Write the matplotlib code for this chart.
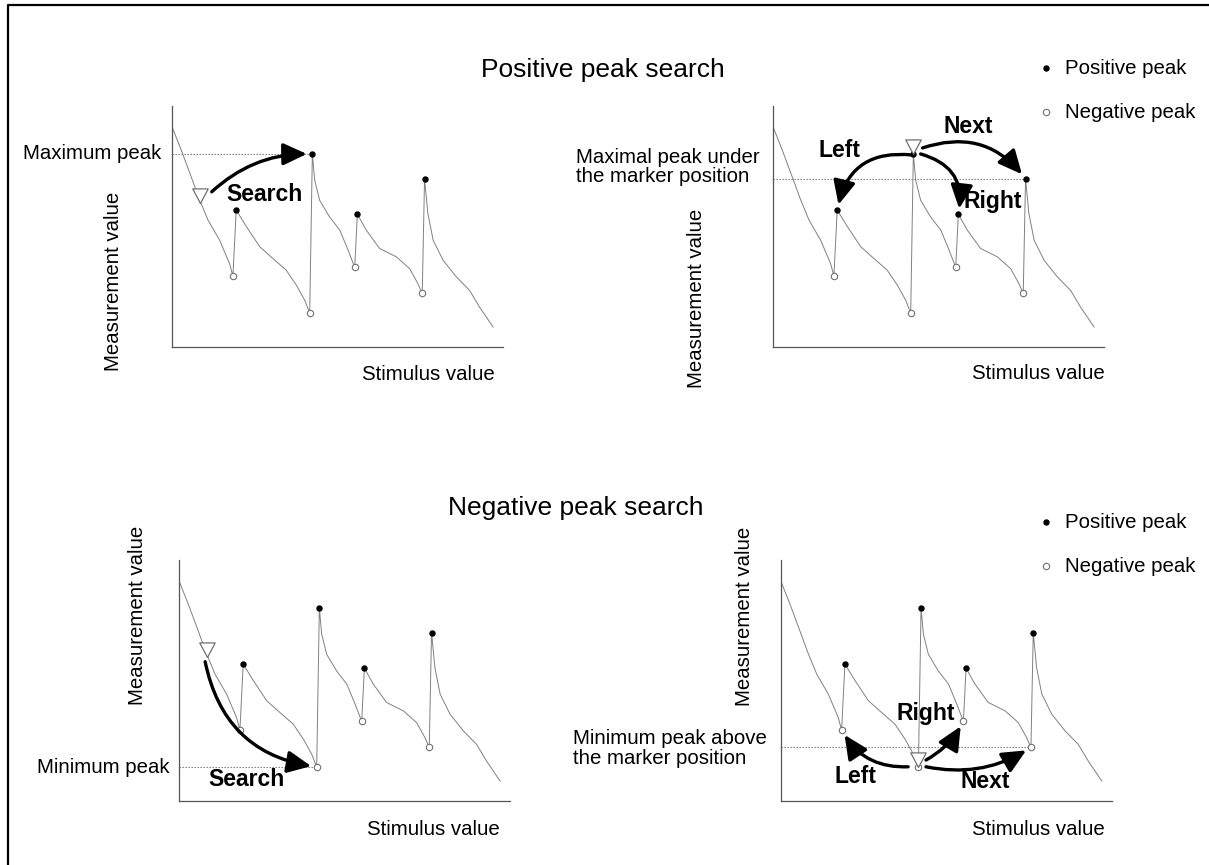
import matplotlib
matplotlib.use('Agg')
import matplotlib.pyplot as plt
from matplotlib.patches import FancyArrowPatch
from matplotlib.path import Path

plt.rcParams['font.family'] = ['Liberation Sans', 'DejaVu Sans']

W, H = 1209, 865

# trace, same in all four panels (x: stimulus 0-100, y: measurement 0-100)
curve_x = [0, 2.8, 5.8, 8.4, 10.9, 14.4, 17.4, 18.4,
           19.4, 22.5, 26.5, 30.5, 34.5, 37.6, 40.1, 41.6,
           42.4, 43.1, 44.6, 47.6, 50.7, 53.2, 55.2,
           56.0, 58.7, 62.7, 67.8, 71.8, 74.3, 75.6,
           76.3, 77.3, 78.9, 81.9, 85.9, 89.9, 92.9, 97.0]
curve_y = [91.4, 81.7, 70.6, 60.9, 52.6, 44.3, 34.6, 29.4,
           56.8, 49.9, 41.6, 36.7, 31.9, 25.6, 19.4, 14.1,
           80.1, 69.3, 60.9, 54.0, 48.5, 40.2, 33.0,
           55.1, 48.5, 40.9, 37.4, 32.5, 26.3, 22.2,
           69.9, 55.4, 44.3, 36.0, 29.1, 23.5, 16.6, 8.3]

pos_x = [19.4, 42.4, 56.0, 76.3]
pos_y = [56.8, 80.1, 55.1, 69.9]
neg_x = [18.4, 41.6, 55.2, 75.6]
neg_y = [29.4, 14.1, 33.0, 22.2]

# marker position for the "Search" panels (on the first slope)
search_marker = (8.6, 59.8)

titles = ['Positive peak search', 'Negative peak search']
legend_labels = ['Positive peak', 'Negative peak']
x_label = 'Stimulus value'
y_label = 'Measurement value'

GRAY = '#707070'
FS = 14.7
BFS = 16.5

# downward triangle with its tip at the data point
tri = Path([(0, 0), (-0.53, 1), (0.53, 1), (0, 0)],
           [Path.MOVETO, Path.LINETO, Path.LINETO, Path.CLOSEPOLY])

fig = plt.figure(figsize=(W / 100, H / 100), dpi=100)

# background overlay in pixel coords
bg = fig.add_axes([0, 0, 1, 1])
bg.set_xlim(0, W)
bg.set_ylim(H, 0)
bg.axis('off')
bg.plot([8, 8, W + 5], [H + 5, 5, 5], color='black', lw=1.6)


def make_axes(x0, y_bottom):
    ax = fig.add_axes([x0 / W, (H - y_bottom) / H, 331 / W, 241 / H])
    ax.set_xlim(0, 100)
    ax.set_ylim(0, 100)
    for s in ['top', 'right']:
        ax.spines[s].set_visible(False)
    for s in ['left', 'bottom']:
        ax.spines[s].set_color('#555555')
        ax.spines[s].set_linewidth(0.9)
    ax.set_xticks([])
    ax.set_yticks([])
    ax.patch.set_alpha(0)
    ax.plot(curve_x, curve_y, color='#808080', lw=0.7, zorder=2)
    ax.plot(pos_x, pos_y, 'o', ms=3.6, color='black', zorder=4)
    ax.plot(neg_x, neg_y, 'o', ms=4.6, mfc='white', mec=GRAY, mew=0.8, zorder=4)
    return ax


def marker(ax, x, y):
    ax.plot([x], [y], marker=tri, ms=21, mfc='white', mec=GRAY, mew=0.9,
            ls='none', zorder=5, clip_on=False)


def arrow(ax, start, end, rad):
    a = FancyArrowPatch(start, end, connectionstyle=f'arc3,rad={rad}',
                        arrowstyle='-|>,head_length=0.9,head_width=0.42',
                        mutation_scale=16, lw=2.4, color='black',
                        shrinkA=0, shrinkB=4, zorder=6, clip_on=False)
    ax.add_patch(a)


def word(ax, x, y, s):
    ax.text(x, y, s, fontsize=BFS, fontweight='bold', ha='center', va='center', zorder=7)


def dotted(ax, px, py):
    ax.plot([0, px], [py, py], ls=(0, (1.2, 1.5)), color=GRAY, lw=0.8, zorder=1)


# ---- top left: positive peak search ----
ax1 = make_axes(172, 347)
dotted(ax1, pos_x[1], pos_y[1])
ax1.text(-3.1, pos_y[1], 'Maximum peak', fontsize=FS, ha='right', va='center')
marker(ax1, *search_marker)
arrow(ax1, (12.0, 64.4), (pos_x[1], pos_y[1]), -0.2)
word(ax1, 27.8, 63.1, 'Search')
ax1.text(-17.8, 27.4, y_label, fontsize=FS, rotation=90, ha='center', va='center')
ax1.text(97.6, -11.6, x_label, fontsize=FS, ha='right', va='center')

# ---- top right: left / right / next ----
ax2 = make_axes(773, 347)
dotted(ax2, pos_x[3], pos_y[3])
ax2.text(-59.5, 74.7, 'Maximal peak under\nthe marker position', fontsize=FS,
         ha='left', va='center', linespacing=1.05)
marker(ax2, pos_x[1], pos_y[1])
arrow(ax2, (41.9, 79.7), (pos_x[0], pos_y[0]), 0.45)
arrow(ax2, (44.6, 80.1), (pos_x[2], pos_y[2]), -0.45)
arrow(ax2, (45.2, 82.6), (pos_x[3], pos_y[3]), -0.35)
word(ax2, 20.2, 81.7, 'Left')
word(ax2, 66.5, 60.2, 'Right')
word(ax2, 58.9, 91.7, 'Next')
ax2.text(-23.1, 20.3, y_label, fontsize=FS, rotation=90, ha='center', va='center')
ax2.text(100.2, -10.8, x_label, fontsize=FS, ha='right', va='center')

# ---- bottom left: negative peak search ----
ax3 = make_axes(179, 801)
dotted(ax3, neg_x[1], neg_y[1])
ax3.text(-2.9, neg_y[1], 'Minimum peak', fontsize=FS, ha='right', va='center')
marker(ax3, *search_marker)
arrow(ax3, (7.9, 57.8), (neg_x[1], neg_y[1]), 0.35)
word(ax3, 20.5, 9.1, 'Search')
ax3.text(-12.5, 77.2, y_label, fontsize=FS, rotation=90, ha='center', va='center')
ax3.text(97.0, -12.0, x_label, fontsize=FS, ha='right', va='center')

# ---- bottom right ----
ax4 = make_axes(780.7, 801)
dotted(ax4, neg_x[3], neg_y[3])
ax4.text(-62.9, 21.7, 'Minimum peak above\nthe marker position', fontsize=FS,
         ha='left', va='center', linespacing=1.05)
marker(ax4, neg_x[1], neg_y[1])
arrow(ax4, (38.5, 14.2), (neg_x[0], neg_y[0]), -0.3)
arrow(ax4, (43.9, 17.0), (neg_x[2], neg_y[2]), 0.15)
arrow(ax4, (43.9, 14.2), (neg_x[3], neg_y[3]), 0.2)
word(ax4, 22.7, 10.0, 'Left')
word(ax4, 43.9, 36.1, 'Right')
word(ax4, 61.7, 7.9, 'Next')
ax4.text(-10.8, 76.8, y_label, fontsize=FS, rotation=90, ha='center', va='center')
ax4.text(97.9, -12.0, x_label, fontsize=FS, ha='right', va='center')

# ---- titles and legends ----
bg.text(603, 70, titles[0], fontsize=19, ha='center', va='center')
bg.text(576, 508, titles[1], fontsize=19, ha='center', va='center')
for y0 in [68, 522]:
    bg.plot([1046], [y0], 'o', ms=3.6, color='black')
    bg.plot([1046], [y0 + 44], 'o', ms=4.6, mfc='white', mec=GRAY, mew=0.8)
    bg.text(1065, y0, legend_labels[0], fontsize=FS, ha='left', va='center')
    bg.text(1065, y0 + 44, legend_labels[1], fontsize=FS, ha='left', va='center')

fig.savefig('out.png', dpi=100)
